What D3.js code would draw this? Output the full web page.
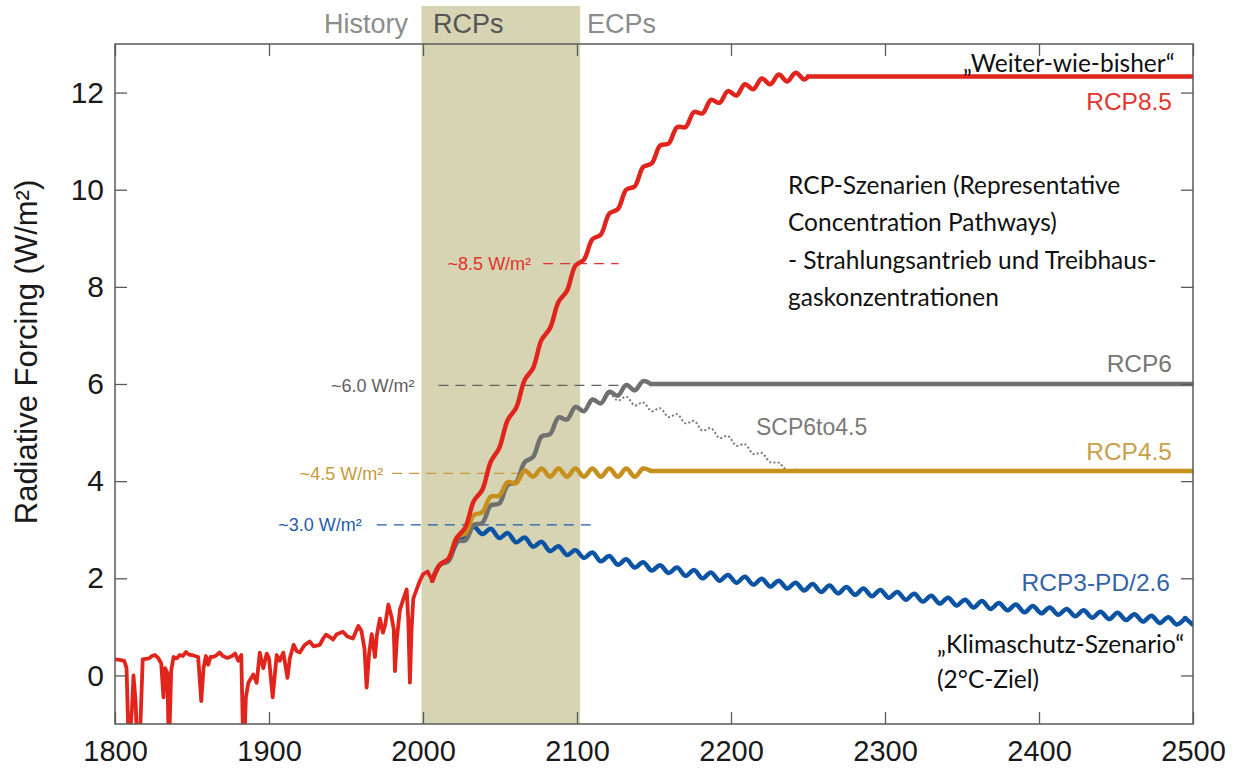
<!DOCTYPE html>
<html>
<head>
<meta charset="utf-8">
<script src="https://cdn.jsdelivr.net/npm/d3@7"></script>
<style>
  body { margin: 0; background: #fff; }
  svg { display: block; }
</style>
</head>
<body>
<svg id="chart" width="1245" height="769"></svg>
<script>
// ---- Data (W/m²) ----
const xTicks = [1800, 1900, 2000, 2100, 2200, 2300, 2400, 2500];
const yTicks = [0, 2, 4, 6, 8, 10, 12];

// Historical forcing 1800–2006, incl. volcanic eruptions
const historyYears = [1800,1803,1806,1807.5,1809,1811,1812,1813.5,1815,1816.5,1818,1820,1822,1824,1826,1828,1830,1831.5,1832.5,1834,1835,1836.5,1838,1840,1842,1844,1846,1848,1850,1852,1854,1856,1857.5,1859,1860.5,1862,1864,1866,1868,1870,1873,1876,1878,1880,1882,1883.5,1885,1886.6,1889.8,1892,1894,1896.3,1898.5,1900,1902.4,1905,1907,1909.3,1912,1913.5,1916,1918,1920,1923,1926.4,1929,1933,1935,1937,1940,1941.6,1944,1948,1951,1954.5,1958,1960,1962,1963.4,1965,1966.7,1968.8,1970,1972,1974,1975.5,1977.5,1979.6,1981,1981.8,1983,1985,1987,1989.4,1990.5,1991.5,1992.5,1993.7,1996,1998,2000,2003,2006];
const historyValues = [0.33,0.32,0.30,0.15,-1.6,-0.7,0.0,-0.6,-2.2,-1.0,0.33,0.34,0.35,0.40,0.42,0.36,0.25,-0.45,0.15,0.05,-1.6,0.1,0.38,0.35,0.42,0.40,0.48,0.43,0.42,0.40,0.38,-0.53,0.15,0.40,0.22,0.38,0.38,0.42,0.47,0.40,0.36,0.40,0.45,0.30,0.42,-1.8,-0.45,-0.15,0.02,-0.15,0.47,0.15,0.45,0.35,-0.45,0.42,0.30,0.47,-0.05,0.35,0.63,0.50,0.47,0.62,0.70,0.60,0.63,0.75,0.84,0.78,0.74,0.85,0.90,0.80,0.76,1.02,0.92,0.55,-0.25,0.45,0.85,0.38,0.82,1.17,0.88,1.05,1.46,1.20,0.95,0.09,0.75,1.35,1.55,1.77,1.10,-0.15,0.90,1.58,1.78,1.95,2.08,2.14,1.95];

// Scenario pathways, sampled at solar-cycle maxima and minima;
// the last pair of each is the stabilised level out to 2500
const rcp85 = [[2006,1.95],[2011,2.28],[2016.5,2.40],[2022,2.83],[2027.5,3.05],[2033,3.59],[2038.5,3.82],[2044,4.40],[2049.5,4.68],[2055,5.26],[2060.5,5.51],[2066,6.08],[2071.5,6.33],[2077,6.91],[2082.5,7.15],[2088,7.69],[2093.5,7.92],[2099,8.44],[2104.5,8.56],[2110,8.98],[2115.5,9.08],[2121,9.51],[2126.5,9.60],[2132,10.0],[2137.5,10.07],[2143,10.47],[2148.5,10.54],[2154,10.91],[2159.5,10.95],[2165,11.29],[2170.5,11.29],[2176,11.60],[2181.5,11.57],[2187,11.85],[2192.5,11.79],[2198,12.03],[2203.5,11.94],[2209,12.17],[2214.5,12.07],[2220,12.29],[2225.5,12.17],[2231,12.37],[2236.5,12.23],[2242,12.41],[2247.5,12.27],[2250,12.33],[2500,12.33]];

const rcp6 = [[2006,1.95],[2011,2.28],[2016.5,2.36],[2022,2.76],[2027.5,2.78],[2033,3.10],[2038.5,3.14],[2044,3.50],[2049.5,3.54],[2055,3.92],[2060.5,3.98],[2066,4.39],[2071.5,4.50],[2077,4.92],[2082.5,4.97],[2088,5.31],[2093.5,5.27],[2099,5.53],[2104.5,5.44],[2110,5.68],[2115.5,5.60],[2121,5.84],[2126.5,5.76],[2132,5.98],[2137.5,5.87],[2143,6.06],[2148,6.0],[2500,6.0]];

const rcp45 = [[2006,1.95],[2011,2.28],[2016.5,2.40],[2022,2.85],[2027.5,2.92],[2033,3.30],[2038.5,3.36],[2044,3.68],[2049.5,3.70],[2055,3.98],[2060.5,3.96],[2066,4.22],[2071.5,4.09],[2077,4.26],[2082.5,4.09],[2088,4.26],[2093.5,4.09],[2099,4.26],[2104.5,4.09],[2110,4.26],[2115.5,4.09],[2121,4.26],[2126.5,4.09],[2132,4.26],[2137.5,4.09],[2143,4.26],[2148,4.21],[2500,4.21]];

const rcp3pd = [[2006,1.95],[2011,2.28],[2016.5,2.36],[2022,2.74],[2027.5,2.86],[2033,3.06],[2038.5,2.91],[2044,3.02],[2049.5,2.83],[2055,2.93],[2060.5,2.74],[2066,2.84],[2071.5,2.65],[2077,2.75],[2082.5,2.56],[2088,2.66],[2093.5,2.48],[2099,2.58],[2104.5,2.42],[2110,2.53],[2115.5,2.35],[2121,2.46],[2126.5,2.28],[2132,2.39],[2137.5,2.22],[2143,2.33],[2148.5,2.16],[2154,2.27],[2159.5,2.11],[2165,2.22],[2170.5,2.05],[2176,2.17],[2181.5,2.00],[2187,2.12],[2192.5,1.95],[2198,2.07],[2203.5,1.91],[2209,2.03],[2214.5,1.87],[2220,1.99],[2225.5,1.83],[2231,1.95],[2236.5,1.79],[2242,1.91],[2247.5,1.75],[2253,1.88],[2258.5,1.72],[2264,1.85],[2269.5,1.69],[2275,1.82],[2280.5,1.66],[2286,1.79],[2291.5,1.63],[2297,1.76],[2302.5,1.60],[2308,1.72],[2313.5,1.56],[2319,1.68],[2324.5,1.52],[2330,1.64],[2335.5,1.48],[2341,1.60],[2346.5,1.44],[2352,1.56],[2357.5,1.40],[2363,1.53],[2368.5,1.37],[2374,1.49],[2379.5,1.34],[2385,1.46],[2390.5,1.30],[2396,1.43],[2401.5,1.28],[2407,1.40],[2412.5,1.25],[2418,1.37],[2423.5,1.22],[2429,1.34],[2434.5,1.19],[2440,1.31],[2445.5,1.16],[2451,1.29],[2456.5,1.14],[2462,1.26],[2467.5,1.11],[2473,1.23],[2478.5,1.08],[2484,1.20],[2489.5,1.05],[2495,1.18],[2500,1.04]];

const scp6to45 = [[2115.5,5.60],[2121,5.80],[2126.5,5.66],[2132,5.74],[2137.5,5.56],[2143,5.62],[2148.5,5.44],[2154,5.50],[2159.5,5.32],[2165,5.38],[2170.5,5.19],[2176,5.24],[2181.5,5.04],[2187,5.09],[2192.5,4.89],[2198,4.93],[2203.5,4.73],[2209,4.76],[2214.5,4.56],[2220,4.58],[2225.5,4.39],[2231,4.38],[2236.5,4.22],[2242,4.24],[2247,4.21],[2500,4.21]];

// Period bands along the top
const periods = ["History", "RCPs", "ECPs"];
const rcpPeriod = [1999, 2102];

// Approximate forcing levels reached around 2100
const levelLabels = ["~8.5 W/m²", "~6.0 W/m²", "~4.5 W/m²", "~3.0 W/m²"];
const levelValues = [8.48, 5.97, 4.16, 3.10];
const levelFrom   = [2078, 2010, 1980, 1970];
const levelTo     = [2127, 2128, 2066, 2112];

// ---- Layout ----
const svg = d3.select("#chart");
const x = d3.scaleLinear().domain([1800, 2500]).range([115, 1193]);
const y = d3.scaleLinear().domain([-1, 13]).range([724, 44]);

const C = {
  red: "#e1251c", gray: "#707070", gold: "#c78f1c", blue: "#0c53a3",
  axis: "#5a5a5a", band: "#d7d4b4"
};
const levelColors = ["#e1332b", "#606060", "#c79a3a", "#1f5ea8"];
const levelGap = [12, 24, 9, 15];
const sans = "'Liberation Sans', Arial, Helvetica, sans-serif";

svg.append("defs").append("clipPath").attr("id", "plot")
  .append("rect").attr("x", x(1800)).attr("y", y(13))
  .attr("width", x(2500) - x(1800)).attr("height", y(-1) - y(13));

// RCP period shading (extends up behind the period labels)
svg.append("rect")
  .attr("x", x(rcpPeriod[0])).attr("y", 6)
  .attr("width", x(rcpPeriod[1]) - x(rcpPeriod[0]))
  .attr("height", y(-1) - 6)
  .attr("fill", C.band);

// Period labels
const pl = svg.append("g").attr("font-family", sans).attr("font-size", "27px");
pl.append("text").attr("x", x(2000) - 15).attr("y", 33).attr("text-anchor", "end").attr("fill", "#8c8c8c").text(periods[0]);
pl.append("text").attr("x", x(2000) + 10).attr("y", 33).attr("fill", "#555").text(periods[1]);
pl.append("text").attr("x", x(2100) + 10).attr("y", 33).attr("fill", "#8c8c8c").text(periods[2]);

// Level reference lines and their labels
const lv = svg.append("g").attr("font-family", sans).attr("font-size", "18px");
levelValues.forEach((v, i) => {
  lv.append("line")
    .attr("x1", x(levelFrom[i])).attr("x2", x(levelTo[i]))
    .attr("y1", y(v)).attr("y2", y(v))
    .attr("stroke", levelColors[i]).attr("stroke-width", 1.2)
    .attr("stroke-dasharray", "10,7");
  lv.append("text")
    .attr("x", x(levelFrom[i]) - levelGap[i]).attr("y", y(v)).attr("dy", "0.36em")
    .attr("text-anchor", "end").attr("fill", levelColors[i])
    .text(levelLabels[i]);
});

// Curves: oscillating part as a smooth spline, stabilised tail as a straight run
const plot = svg.append("g").attr("clip-path", "url(#plot)");
const wave = d3.line().x(d => x(d[0])).y(d => y(d[1])).curve(d3.curveCatmullRom.alpha(0.5));
const straight = d3.line().x(d => x(d[0])).y(d => y(d[1]));

function scenario(data, col, width, dash) {
  const g = plot.append("g")
    .attr("fill", "none").attr("stroke", col).attr("stroke-width", width)
    .attr("stroke-linejoin", "round").attr("stroke-linecap", dash ? "butt" : "round");
  if (dash) g.attr("stroke-dasharray", dash);
  g.append("path").attr("d", wave(data.slice(0, -1)));
  g.append("path").attr("d", straight(data.slice(-2)));
}
scenario(scp6to45, "#7a7a7a", 2, "2,2.2");
scenario(rcp3pd, C.blue, 4.5);
scenario(rcp6, C.gray, 4.5);
scenario(rcp45, C.gold, 4.5);
scenario(rcp85, C.red, 4.5);

const hist = historyYears.map((yr, i) => [yr, historyValues[i]]);
plot.append("path").datum(hist)
  .attr("d", straight)
  .attr("fill", "none").attr("stroke", C.red).attr("stroke-width", 3.8)
  .attr("stroke-linejoin", "round");

// Axes (ticks point inward on all four sides)
function styleAxis(g) {
  g.select(".domain").remove();
  g.selectAll(".tick line").attr("stroke", C.axis).attr("stroke-width", 1.3);
  g.selectAll("text").attr("font-family", sans).attr("font-size", "29px").attr("fill", "#1a1a1a");
}
svg.append("g").attr("transform", `translate(0,${y(-1)})`)
  .call(d3.axisBottom(x).tickValues(xTicks).tickFormat(d3.format("d")).tickSize(-12).tickPadding(16))
  .call(styleAxis);
svg.append("g").attr("transform", `translate(0,${y(13)})`)
  .call(d3.axisTop(x).tickValues(xTicks).tickFormat("").tickSize(-12))
  .call(styleAxis);
svg.append("g").attr("transform", `translate(${x(1800)},0)`)
  .call(d3.axisLeft(y).tickValues(yTicks).tickSize(-12).tickPadding(11))
  .call(g => { styleAxis(g); g.selectAll("text").attr("font-size", "30px"); });
svg.append("g").attr("transform", `translate(${x(2500)},0)`)
  .call(d3.axisRight(y).tickValues(yTicks).tickFormat("").tickSize(-12))
  .call(styleAxis);

svg.append("rect")
  .attr("x", x(1800)).attr("y", y(13))
  .attr("width", x(2500) - x(1800)).attr("height", y(-1) - y(13))
  .attr("fill", "none").attr("stroke", C.axis).attr("stroke-width", 1.5);

// Y axis title
svg.append("text")
  .attr("transform", "translate(37,352) rotate(-90)")
  .attr("text-anchor", "middle")
  .attr("font-family", sans).attr("font-size", "31px").attr("fill", "#1a1a1a")
  .text("Radiative Forcing (W/m²)");

// Scenario names
const sl = svg.append("g").attr("font-family", sans).attr("font-size", "24.5px");
sl.append("text").attr("x", 1172).attr("y", 110).attr("text-anchor", "end").attr("fill", "#e2352d").text("RCP8.5");
sl.append("text").attr("x", 1172).attr("y", 372).attr("text-anchor", "end").attr("fill", "#767676").text("RCP6");
sl.append("text").attr("x", 756).attr("y", 435).attr("font-size", "23px").attr("fill", "#7a7a7a").text("SCP6to4.5");
sl.append("text").attr("x", 1172).attr("y", 460).attr("text-anchor", "end").attr("fill", "#c9a04a").text("RCP4.5");
sl.append("text").attr("x", 1170).attr("y", 591).attr("text-anchor", "end").attr("fill", "#3563a8").text("RCP3-PD/2.6");

// German annotations
const an = svg.append("g").attr("font-family", "Lato, 'Open Sans', sans-serif").attr("font-size", "24.5px").attr("fill", "#111");
an.append("text").attr("x", 963).attr("y", 72).text("„Weiter-wie-bisher“");
["RCP-Szenarien (Representative", "Concentration Pathways)",
 "- Strahlungsantrieb und Treibhaus-", "gaskonzentrationen"].forEach((t, i) => {
  an.append("text").attr("x", 788).attr("y", 194 + i * 37.4).text(t);
});
an.append("text").attr("x", 937).attr("y", 653).text("„Klimaschutz-Szenario“");
an.append("text").attr("x", 937).attr("y", 688).text("(2°C-Ziel)");
</script>
</body>
</html>
